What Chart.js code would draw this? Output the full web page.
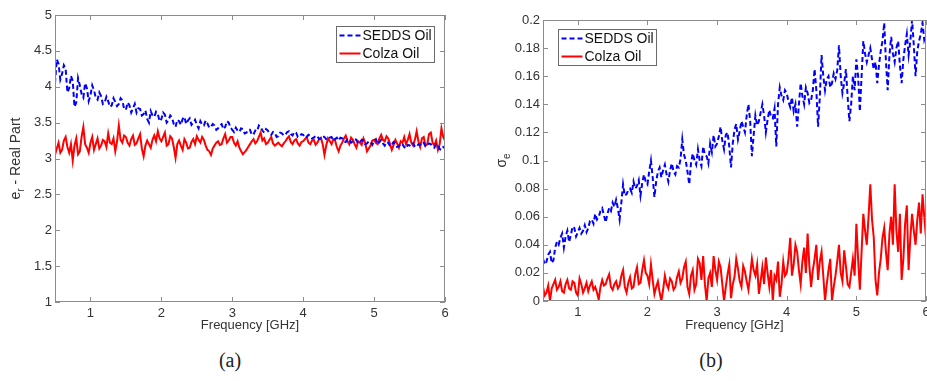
<!DOCTYPE html>
<html lang="en">
<head>
<meta charset="UTF-8">
<title>SEDDS Oil vs Colza Oil</title>
<script src="https://cdn.jsdelivr.net/npm/chart.js"></script>
<style>
  body { margin: 0; width: 927px; height: 381px; overflow: hidden; background: #fff; position: relative; }
  canvas { position: absolute; top: 0; }
  #chartA { left: 0; }
  #chartB { left: 460px; }
  .cap { position: absolute; top: 349px; width: 60px; text-align: center; font: 20px "Liberation Serif", "DejaVu Serif", serif; color: #222; }
</style>
</head>
<body>
<canvas id="chartA" width="460" height="340"></canvas>
<canvas id="chartB" width="480" height="340"></canvas>
<div class="cap" style="left:200px">(a)</div>
<div class="cap" style="left:681px">(b)</div>

<script>
// frequency points in GHz
const freq = [
  0.500, 0.525, 0.550, 0.575, 0.600, 0.625, 0.650, 0.675, 0.700, 0.725, 0.750, 0.775, 0.800, 0.825, 0.850, 0.875, 0.900, 0.925, 0.950, 0.975,
  1.000, 1.025, 1.050, 1.075, 1.100, 1.125, 1.150, 1.175, 1.200, 1.225, 1.250, 1.275, 1.300, 1.325, 1.350, 1.375, 1.400, 1.425, 1.450, 1.475,
  1.500, 1.525, 1.550, 1.575, 1.600, 1.625, 1.650, 1.675, 1.700, 1.725, 1.750, 1.775, 1.800, 1.825, 1.850, 1.875, 1.900, 1.925, 1.950, 1.975,
  2.000, 2.025, 2.050, 2.075, 2.100, 2.125, 2.150, 2.175, 2.200, 2.225, 2.250, 2.275, 2.300, 2.325, 2.350, 2.375, 2.400, 2.425, 2.450, 2.475,
  2.500, 2.525, 2.550, 2.575, 2.600, 2.625, 2.650, 2.675, 2.700, 2.725, 2.750, 2.775, 2.800, 2.825, 2.850, 2.875, 2.900, 2.925, 2.950, 2.975,
  3.000, 3.025, 3.050, 3.075, 3.100, 3.125, 3.150, 3.175, 3.200, 3.225, 3.250, 3.275, 3.300, 3.325, 3.350, 3.375, 3.400, 3.425, 3.450, 3.475,
  3.500, 3.525, 3.550, 3.575, 3.600, 3.625, 3.650, 3.675, 3.700, 3.725, 3.750, 3.775, 3.800, 3.825, 3.850, 3.875, 3.900, 3.925, 3.950, 3.975,
  4.000, 4.025, 4.050, 4.075, 4.100, 4.125, 4.150, 4.175, 4.200, 4.225, 4.250, 4.275, 4.300, 4.325, 4.350, 4.375, 4.400, 4.425, 4.450, 4.475,
  4.500, 4.525, 4.550, 4.575, 4.600, 4.625, 4.650, 4.675, 4.700, 4.725, 4.750, 4.775, 4.800, 4.825, 4.850, 4.875, 4.900, 4.925, 4.950, 4.975,
  5.000, 5.025, 5.050, 5.075, 5.100, 5.125, 5.150, 5.175, 5.200, 5.225, 5.250, 5.275, 5.300, 5.325, 5.350, 5.375, 5.400, 5.425, 5.450, 5.475,
  5.500, 5.525, 5.550, 5.575, 5.600, 5.625, 5.650, 5.675, 5.700, 5.725, 5.750, 5.775, 5.800, 5.825, 5.850, 5.875, 5.900, 5.925, 5.950, 5.975,
  6.000
];

// (a) real part of permittivity
const seddsReal = [
  4.05, 4.38, 4.32, 4.10, 4.18, 4.30, 4.25, 3.92, 3.98, 4.15, 4.08, 3.72, 3.78, 4.12, 4.02, 3.90, 3.85, 4.05, 3.98, 3.80,
  3.88, 4.02, 3.95, 3.85, 3.82, 3.92, 3.87, 3.76, 3.78, 3.86, 3.80, 3.72, 3.74, 3.84, 3.79, 3.73, 3.76, 3.84, 3.81, 3.69,
  3.68, 3.78, 3.74, 3.64, 3.70, 3.76, 3.64, 3.70, 3.69, 3.60, 3.62, 3.67, 3.55, 3.50, 3.66, 3.60, 3.58, 3.65, 3.62, 3.52,
  3.55, 3.64, 3.61, 3.50, 3.53, 3.60, 3.57, 3.48, 3.44, 3.54, 3.52, 3.47, 3.55, 3.58, 3.48, 3.53, 3.56, 3.47, 3.50, 3.54,
  3.47, 3.42, 3.52, 3.47, 3.46, 3.53, 3.49, 3.43, 3.44, 3.48, 3.46, 3.40, 3.42, 3.46, 3.48, 3.41, 3.44, 3.52, 3.50, 3.43,
  3.40, 3.37, 3.43, 3.39, 3.37, 3.42, 3.41, 3.35, 3.36, 3.40, 3.40, 3.33, 3.34, 3.39, 3.38, 3.46, 3.44, 3.39, 3.36, 3.41,
  3.39, 3.35, 3.33, 3.37, 3.36, 3.30, 3.31, 3.36, 3.35, 3.32, 3.33, 3.37, 3.38, 3.34, 3.32, 3.37, 3.36, 3.30, 3.31, 3.34,
  3.33, 3.29, 3.30, 3.33, 3.32, 3.28, 3.29, 3.32, 3.31, 3.27, 3.28, 3.31, 3.30, 3.27, 3.26, 3.29, 3.30, 3.25, 3.27, 3.29,
  3.25, 3.29, 3.28, 3.24, 3.23, 3.27, 3.27, 3.22, 3.24, 3.27, 3.26, 3.21, 3.22, 3.26, 3.25, 3.20, 3.21, 3.24, 3.23, 3.19,
  3.24, 3.27, 3.20, 3.23, 3.26, 3.21, 3.18, 3.23, 3.22, 3.17, 3.19, 3.23, 3.21, 3.16, 3.17, 3.21, 3.20, 3.16, 3.14, 3.19,
  3.18, 3.22, 3.21, 3.17, 3.16, 3.20, 3.19, 3.23, 3.22, 3.17, 3.18, 3.21, 3.20, 3.16, 3.15, 3.20, 3.19, 3.13, 3.12, 3.16,
  3.14
];
const colzaReal = [
  3.05, 3.14, 3.22, 3.08, 3.12, 3.25, 3.30, 3.16, 3.08, 3.20, 2.97, 3.18, 3.28, 3.06, 3.10, 3.30, 3.44, 3.20, 3.15, 3.08,
  3.22, 3.30, 3.12, 3.20, 3.28, 3.14, 3.18, 3.26, 3.24, 3.16, 3.35, 3.22, 3.20, 3.28, 3.10, 3.24, 3.46, 3.26, 3.22, 3.32,
  3.30, 3.22, 3.18, 3.27, 3.32, 3.19, 3.21, 3.28, 3.34, 3.14, 3.03, 3.18, 3.25, 3.20, 3.15, 3.26, 3.32, 3.24, 3.38, 3.28,
  3.24, 3.30, 3.36, 3.18, 3.20, 3.31, 3.28, 3.16, 3.01, 3.20, 3.25, 3.18, 3.12, 3.27, 3.22, 3.14, 3.15, 3.23, 3.27, 3.20,
  3.31, 3.26, 3.22, 3.30, 3.26, 3.18, 3.12, 3.10, 3.05, 3.14, 3.18, 3.22, 3.24, 3.19, 3.20, 3.28, 3.34, 3.22, 3.25, 3.30,
  3.30, 3.22, 3.18, 3.24, 3.15, 3.10, 3.06, 3.09, 3.12, 3.16, 3.20, 3.24, 3.27, 3.21, 3.24, 3.30, 3.36, 3.25, 3.28, 3.20,
  3.22, 3.26, 3.30, 3.21, 3.18, 3.20, 3.22, 3.19, 3.17, 3.21, 3.24, 3.28, 3.31, 3.23, 3.20, 3.25, 3.27, 3.21, 3.18, 3.23,
  3.24, 3.27, 3.30, 3.22, 3.20, 3.25, 3.26, 3.19, 3.22, 3.27, 3.29, 3.20, 3.05, 3.18, 3.28, 3.24, 3.20, 3.27, 3.25, 3.16,
  3.10, 3.18, 3.22, 3.28, 3.32, 3.24, 3.20, 3.29, 3.26, 3.20, 3.15, 3.24, 3.22, 3.19, 3.28, 3.22, 3.10, 3.14, 3.18, 3.25,
  3.26, 3.22, 3.20, 3.28, 3.33, 3.26, 3.24, 3.31, 3.28, 3.20, 3.12, 3.19, 3.26, 3.21, 3.15, 3.24, 3.22, 3.30, 3.20, 3.26,
  3.34, 3.22, 3.18, 3.26, 3.38, 3.24, 3.16, 3.28, 3.30, 3.18, 3.20, 3.34, 3.36, 3.22, 3.18, 3.25, 3.12, 3.20, 3.42, 3.30,
  3.25
];

// (b) conductivity
const seddsSigma = [
  0.030, 0.026, 0.028, 0.033, 0.035, 0.027, 0.029, 0.038, 0.042, 0.040, 0.045, 0.048, 0.038, 0.046, 0.050, 0.042, 0.047, 0.053, 0.052, 0.046,
  0.049, 0.052, 0.048, 0.050, 0.054, 0.049, 0.052, 0.057, 0.058, 0.055, 0.062, 0.058, 0.060, 0.064, 0.066, 0.061, 0.056, 0.062, 0.066, 0.064,
  0.070, 0.067, 0.072, 0.066, 0.058, 0.070, 0.083, 0.075, 0.076, 0.079, 0.080, 0.077, 0.085, 0.080, 0.082, 0.086, 0.075, 0.084, 0.090, 0.085,
  0.083, 0.092, 0.100, 0.088, 0.074, 0.085, 0.092, 0.095, 0.088, 0.093, 0.097, 0.090, 0.085, 0.093, 0.098, 0.092, 0.090, 0.096, 0.095, 0.101,
  0.115, 0.104, 0.100, 0.092, 0.083, 0.098, 0.105, 0.100, 0.097, 0.108, 0.100, 0.096, 0.110, 0.104, 0.103, 0.098, 0.112, 0.106, 0.118, 0.110,
  0.112, 0.117, 0.124, 0.114, 0.108, 0.118, 0.120, 0.110, 0.095, 0.112, 0.122, 0.126, 0.115, 0.121, 0.128, 0.124, 0.120, 0.132, 0.140, 0.128,
  0.103, 0.118, 0.132, 0.125, 0.128, 0.134, 0.140, 0.132, 0.120, 0.129, 0.136, 0.131, 0.130, 0.137, 0.110, 0.140, 0.152, 0.146, 0.143, 0.150,
  0.148, 0.142, 0.138, 0.145, 0.135, 0.140, 0.124, 0.140, 0.155, 0.146, 0.140, 0.152, 0.148, 0.141, 0.143, 0.150, 0.165, 0.150, 0.124, 0.145,
  0.175, 0.160, 0.150, 0.158, 0.160, 0.152, 0.155, 0.162, 0.158, 0.164, 0.182, 0.160, 0.148, 0.155, 0.165, 0.145, 0.128, 0.140, 0.160, 0.150,
  0.172, 0.160, 0.135, 0.160, 0.185, 0.176, 0.170, 0.175, 0.180, 0.172, 0.165, 0.170, 0.155, 0.168, 0.178, 0.185, 0.198, 0.170, 0.150, 0.175,
  0.188, 0.176, 0.170, 0.180, 0.185, 0.168, 0.155, 0.172, 0.182, 0.190, 0.175, 0.185, 0.200, 0.182, 0.160, 0.178, 0.185, 0.190, 0.198, 0.186,
  0.190
];
const colzaSigma = [
  0.010, 0.004, 0.006, 0.011, 0.000, 0.009, 0.012, 0.015, 0.008, 0.010, 0.014, 0.007, 0.006, 0.012, 0.015, 0.009, 0.008, 0.014, 0.013, 0.006,
  0.004, 0.016, 0.012, 0.006, 0.009, 0.013, 0.007, 0.011, 0.014, 0.008, 0.010, 0.006, 0.001, 0.010, 0.015, 0.011, 0.012, 0.016, 0.019, 0.010,
  0.008, 0.012, 0.014, 0.009, 0.011, 0.018, 0.022, 0.010, 0.006, 0.013, 0.017, 0.009, 0.010, 0.019, 0.024, 0.012, 0.013, 0.022, 0.029, 0.020,
  0.018, 0.012, 0.026, 0.015, 0.005, 0.010, 0.014, 0.006, 0.000, 0.008, 0.018, 0.012, 0.009, 0.016, 0.014, 0.008, 0.010, 0.017, 0.021, 0.013,
  0.016, 0.024, 0.028, 0.010, 0.005, 0.018, 0.022, 0.008, 0.012, 0.030, 0.027, 0.015, 0.032, 0.012, 0.000, 0.016, 0.020, 0.010, 0.032, 0.022,
  0.015, 0.028, 0.024, 0.012, 0.000, 0.010, 0.019, 0.026, 0.002, 0.012, 0.017, 0.030, 0.023, 0.014, 0.010, 0.025, 0.021, 0.014, 0.008, 0.018,
  0.030, 0.022, 0.018, 0.026, 0.005, 0.014, 0.024, 0.012, 0.031, 0.020, 0.010, 0.022, 0.000, 0.018, 0.015, 0.028, 0.003, 0.012, 0.028, 0.018,
  0.020, 0.030, 0.045, 0.018, 0.026, 0.040, 0.035, 0.022, 0.012, 0.028, 0.038, 0.020, 0.048, 0.025, 0.010, 0.022, 0.030, 0.040, 0.015, 0.028,
  0.035, 0.018, 0.000, 0.012, 0.022, 0.030, 0.000, 0.010, 0.018, 0.028, 0.040, 0.020, 0.014, 0.036, 0.025, 0.012, 0.010, 0.020, 0.030, 0.018,
  0.055, 0.030, 0.008, 0.035, 0.062, 0.050, 0.040, 0.060, 0.083, 0.058, 0.045, 0.015, 0.004, 0.020, 0.030, 0.045, 0.052, 0.035, 0.022, 0.048,
  0.060, 0.040, 0.083, 0.050, 0.035, 0.062, 0.015, 0.030, 0.055, 0.068, 0.022, 0.045, 0.062, 0.050, 0.040, 0.058, 0.070, 0.048, 0.076, 0.060,
  0.045
];

// tick labels
const xTicks = [1, 2, 3, 4, 5, 6];
const yTicksA = [1, 1.5, 2, 2.5, 3, 3.5, 4, 4.5, 5];
const yTicksB = [0, 0.02, 0.04, 0.06, 0.08, 0.1, 0.12, 0.14, 0.16, 0.18, 0.2];

const FONT = '"Liberation Sans", Arial, sans-serif';
Chart.defaults.font.family = FONT;
Chart.defaults.color = '#333';

// MATLAB-style box, inward ticks, rotated y title with subscript, boxed legend inside the axes
const matlabAxes = {
  id: 'matlabAxes',
  afterDatasetsDraw(chart, args, opts) {
    const { ctx, chartArea: a } = chart;
    const xs = chart.scales.x, ys = chart.scales.y, L = 5;
    ctx.save();
    ctx.strokeStyle = '#8c8c8c';
    ctx.lineWidth = 1;
    ctx.setLineDash([]);
    ctx.strokeRect(a.left + 0.5, a.top + 0.5, a.right - a.left - 1, a.bottom - a.top - 1);
    ctx.beginPath();
    xs.ticks.forEach(t => {
      const p = Math.round(xs.getPixelForValue(t.value)) + 0.5;
      ctx.moveTo(p, a.bottom); ctx.lineTo(p, a.bottom - L);
      ctx.moveTo(p, a.top); ctx.lineTo(p, a.top + L);
    });
    ys.ticks.forEach(t => {
      const p = Math.round(ys.getPixelForValue(t.value)) + 0.5;
      ctx.moveTo(a.left, p); ctx.lineTo(a.left + L, p);
      ctx.moveTo(a.right, p); ctx.lineTo(a.right - L, p);
    });
    ctx.stroke();

    // y title
    ctx.translate(opts.titleX, (a.top + a.bottom) / 2);
    ctx.rotate(-Math.PI / 2);
    ctx.fillStyle = '#333';
    ctx.textBaseline = 'middle';
    ctx.textAlign = 'left';
    let total = 0;
    opts.yTitle.forEach(p => { ctx.font = p.size + 'px ' + FONT; total += ctx.measureText(p.text).width; });
    let cx = -total / 2;
    opts.yTitle.forEach(p => {
      ctx.font = p.size + 'px ' + FONT;
      ctx.fillText(p.text, cx, p.dy);
      cx += ctx.measureText(p.text).width;
    });
    ctx.restore();
  },
  afterDraw(chart, args, opts) {
    const { ctx, chartArea: a } = chart;
    const ds = chart.data.datasets;
    ctx.save();
    ctx.font = '14px ' + FONT;
    const tw = Math.max(...ds.map(d => ctx.measureText(d.label).width));
    const w = Math.round(26 + tw + 3), h = 36;
    const bx = Math.round(opts.align === 'right' ? a.right - opts.dx - w : a.left + opts.dx) + 0.5;
    const by = Math.round(a.top + opts.dy) + 0.5;
    ctx.fillStyle = '#fff';
    ctx.fillRect(bx, by, w, h);
    ctx.strokeStyle = '#6a6a6a';
    ctx.lineWidth = 1;
    ctx.strokeRect(bx, by, w, h);
    ds.forEach((d, i) => {
      const ly = by + 9 + i * 18;
      ctx.beginPath();
      ctx.strokeStyle = d.borderColor;
      ctx.lineWidth = 2;
      ctx.setLineDash(d.borderDash || []);
      ctx.moveTo(bx + 3, ly);
      ctx.lineTo(bx + 24, ly);
      ctx.stroke();
      ctx.setLineDash([]);
      ctx.fillStyle = '#111';
      ctx.textBaseline = 'middle';
      ctx.fillText(d.label, bx + 26, ly + 1);
    });
    ctx.restore();
  }
};

function makeChart(id, blue, red, yMin, yMax, yTicks, layout, axesOpts) {
  const ctx = document.getElementById(id).getContext('2d');
  return new Chart(ctx, {
    type: 'line',
    data: {
      datasets: [
        {
          label: 'SEDDS Oil',
          data: freq.map((f, i) => ({ x: f, y: blue[i] })),
          borderColor: '#0000ff',
          borderWidth: 2,
          borderDash: [5, 3],
          pointRadius: 0,
          tension: 0,
          fill: false
        },
        {
          label: 'Colza Oil',
          data: freq.map((f, i) => ({ x: f, y: red[i] })),
          borderColor: '#ff0000',
          borderWidth: 2,
          pointRadius: 0,
          tension: 0,
          fill: false
        }
      ]
    },
    options: {
      responsive: false,
      animation: false,
      layout: { padding: layout.padding },
      plugins: {
        legend: { display: false },
        tooltip: { enabled: false },
        matlabAxes: axesOpts
      },
      scales: {
        x: {
          type: 'linear',
          min: 0.5,
          max: 6,
          afterBuildTicks: s => { s.ticks = xTicks.map(v => ({ value: v })); },
          afterFit: s => { s.height = layout.xHeight; },
          grid: { display: false, drawTicks: false },
          border: { display: false },
          ticks: { font: { size: 13 }, padding: 4, maxRotation: 0, callback: v => String(v) },
          title: { display: true, text: 'Frequency [GHz]', font: { size: 13 }, padding: { top: 0, bottom: 7 } }
        },
        y: {
          type: 'linear',
          min: yMin,
          max: yMax,
          afterBuildTicks: s => { s.ticks = yTicks.map(v => ({ value: v })); },
          afterFit: s => { s.width = layout.yWidth; },
          grid: { display: false, drawTicks: false },
          border: { display: false },
          ticks: { font: { size: 13 }, padding: 3, callback: v => String(v) }
        }
      }
    },
    plugins: [matlabAxes]
  });
}

makeChart('chartA', seddsReal, colzaReal, 1, 5, yTicksA,
  { padding: { left: 0, right: 15, top: 15, bottom: 0 }, yWidth: 55, xHeight: 38 },
  { titleX: 16, align: 'right', dx: 11, dy: 11,
    yTitle: [{ text: 'e', size: 14, dy: 0 }, { text: 'r', size: 10, dy: 5 }, { text: ' - Real Part', size: 14, dy: 0 }] });

makeChart('chartB', seddsSigma, colzaSigma, 0, 0.2, yTicksB,
  { padding: { left: 0, right: 14, top: 20, bottom: 0 }, yWidth: 83, xHeight: 39 },
  { titleX: 42, align: 'left', dx: 15, dy: 9,
    yTitle: [{ text: 'σ', size: 14, dy: 0 }, { text: 'e', size: 10, dy: 5 }] });
</script>
</body>
</html>
